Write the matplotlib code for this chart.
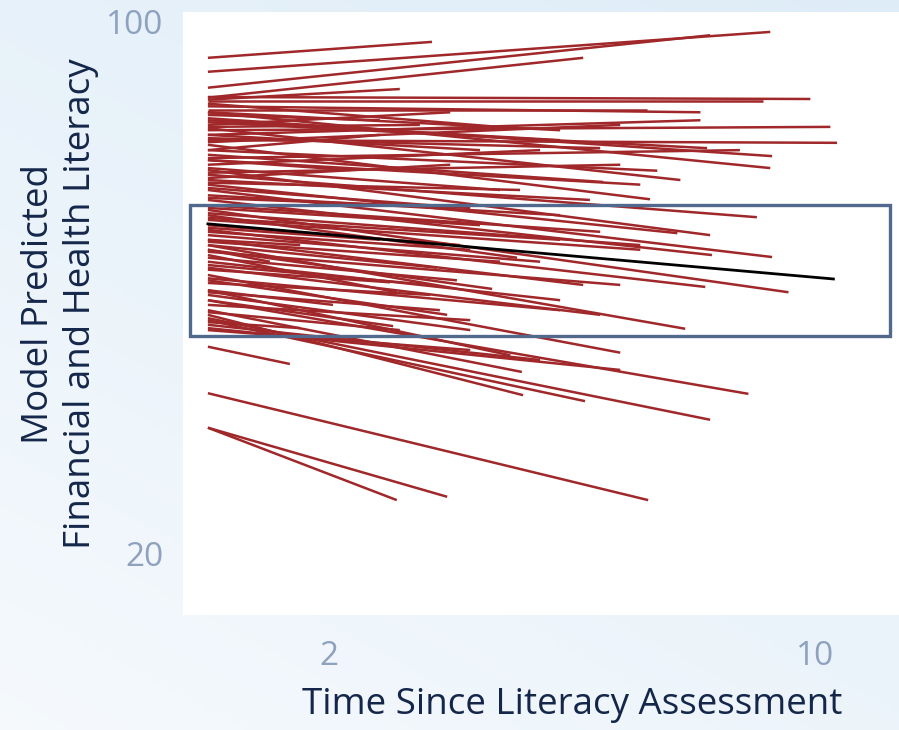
import numpy as np
import matplotlib.pyplot as plt
from matplotlib.patches import Rectangle

plt.rcParams['font.family'] = ['Open Sans', 'DejaVu Sans']

# Per-person predicted trajectories: value at time 0, last follow-up time, value at last follow-up
start_val = [94.6, 92.5, 90.1, 88.6, 88.3, 88.7, 88.1, 86.7, 87.3, 87.7,
             83.7, 82.2, 84.9, 85.5, 86.4, 80.7, 84.0, 80.0, 79.2, 81.5,
             77.0, 77.7, 75.5, 74.7, 73.2, 70.9, 71.7, 68.7, 67.2, 66.4,
             65.7, 61.9, 59.6, 58.1, 56.6, 55.9, 55.1, 55.4, 51.1, 44.1,
             38.9, 38.9, 64.9, 59.6, 61.1, 58.1, 66.4, 64.5, 65.7, 85.2,
             83.0, 81.9, 78.5, 76.5, 76.2, 75.0, 73.9, 72.4, 70.2, 69.4,
             67.9, 69.0, 63.9, 63.0, 58.9, 54.4, 53.6, 63.4, 79.2, 80.7,
             84.5, 86.0, 78.0, 72.0, 70.5, 83.0, 57.4, 54.8, 60.7, 67.2,
             68.4, 66.9, 65.4, 62.7, 61.4, 59.3, 56.3, 53.9, 71.2, 73.5,
             75.8, 77.3, 79.5, 82.5, 86.4, 84.2]
end_time = [3.69, 9.26, 8.27, 6.18, 3.16, 9.92, 9.14, 7.23, 8.11, 5.06,
            10.25, 10.36, 8.22, 9.29, 9.26, 7.40, 7.78, 6.51, 7.12, 7.28,
            9.04, 8.27, 7.73, 9.29, 8.30, 5.09, 9.56, 8.19, 6.18, 7.86,
            4.68, 6.79, 4.98, 8.90, 5.17, 5.19, 6.21, 8.27, 1.35, 7.25,
            3.11, 3.94, 3.11, 2.06, 3.94, 3.05, 3.77, 4.10, 1.02, 5.80,
            4.48, 6.79, 5.47, 3.99, 6.29, 3.66, 5.80, 6.46, 7.12, 4.15,
            5.47, 2.83, 5.80, 6.46, 4.32, 5.47, 4.32, 3.66, 2.34, 2.83,
            3.99, 2.83, 4.81, 4.48, 5.80, 8.11, 4.32, 1.52, 3.66, 1.52,
            4.32, 4.81, 6.79, 3.00, 5.80, 3.82, 3.16, 6.79, 7.12, 4.32,
            5.14, 6.79, 8.76, 6.46, 5.80, 3.49]
end_val = [97.0, 98.5, 98.0, 94.6, 89.9, 88.4, 88.1, 86.7, 86.4, 84.0,
           84.2, 81.8, 81.0, 79.8, 78.0, 77.6, 76.2, 75.9, 75.5, 73.3,
           70.6, 67.9, 68.2, 64.6, 64.9, 64.5, 59.3, 60.1, 60.4, 53.8,
           59.8, 50.2, 49.8, 44.0, 47.3, 43.8, 42.9, 40.1, 48.5, 28.0,
           28.0, 28.5, 59.3, 57.4, 55.9, 54.2, 63.0, 61.1, 63.9, 82.2,
           80.7, 84.5, 80.7, 78.5, 73.2, 72.4, 70.9, 68.4, 65.7, 66.4,
           63.9, 67.2, 58.1, 55.9, 53.6, 49.1, 50.6, 60.4, 77.7, 83.0,
           86.4, 85.2, 74.7, 69.4, 67.2, 85.2, 55.1, 53.9, 58.9, 66.4,
           65.7, 63.9, 60.4, 60.8, 56.6, 56.6, 53.6, 47.6, 66.4, 72.0,
           74.7, 78.5, 80.7, 81.0, 83.7, 84.5]

# Average trajectory
mean_start, mean_end_time, mean_end = 69.6, 10.30, 61.3

# Highlighted band around the average
band_x = (-0.30, 11.24)
band_y = (52.7, 72.4)

fig = plt.figure(figsize=(8.99, 7.3), dpi=100)

# soft blue background gradient, bluer towards the top right
bg = fig.add_axes([0, 0, 1, 1], zorder=-1)
gy, gx = np.mgrid[0:1:200j, 0:1:200j]
t = np.clip(0.6 * gy + 0.4 * gx, 0, 1)
c0 = np.array([0.962, 0.978, 0.992])
c1 = np.array([0.872, 0.927, 0.970])
img = c0[None, None, :] * (1 - t[..., None]) + c1[None, None, :] * t[..., None]
bg.imshow(img, origin='lower', aspect='auto', extent=[0, 1, 0, 1])
bg.axis('off')

ax = fig.add_axes([183 / 899, 1 - 615 / 730, 1 - 183 / 899, (615 - 12) / 730])
ax.set_facecolor('white')

for s, te, e in zip(start_val, end_time, end_val):
    ax.plot([0, te], [s, e], color='#a0282a', lw=1.8, solid_capstyle='butt')
ax.plot([0, mean_end_time], [mean_start, mean_end], color='black', lw=2.0, zorder=3)

ax.add_patch(Rectangle((band_x[0], band_y[1]), band_x[1] - band_x[0], band_y[0] - band_y[1],
                       fill=False, edgecolor='#51698d', lw=2.4, zorder=4, clip_on=False))

ax.set_xlim(-0.41, 11.38)
ax.set_ylim(10.7, 101.5)
ax.set_xticks([2, 10])
ax.set_yticks([20, 100])
ax.tick_params(length=0, labelsize=24, labelcolor='#8ea1bf')
ax.tick_params(axis='x', pad=18)
ax.tick_params(axis='y', pad=14)
for sp in ax.spines.values():
    sp.set_visible(False)

fig.text(572 / 899, 1 - 705 / 730, 'Time Since Literacy Assessment',
         ha='center', va='center', fontsize=26.5, color='#14264a')
fig.text(60 / 899, 1 - 304 / 730, 'Model Predicted\nFinancial and Health Literacy',
         ha='center', va='center', rotation=90, multialignment='center',
         fontsize=26.5, color='#14264a', linespacing=1.2)

fig.savefig('out.png', dpi=100)
